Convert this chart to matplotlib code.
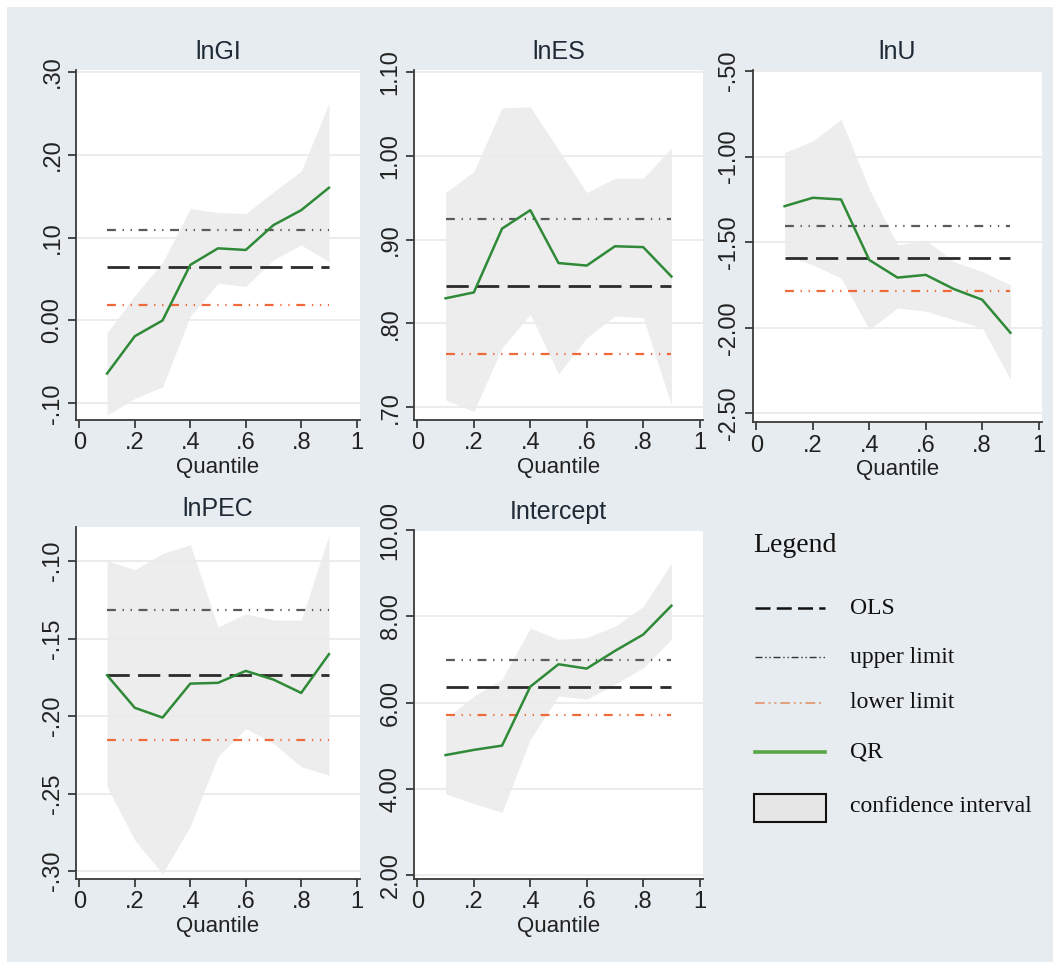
import matplotlib
matplotlib.use("Agg")
import matplotlib.pyplot as plt
from matplotlib.patches import Rectangle
from matplotlib.lines import Line2D

plt.rcParams["font.family"] = ["Liberation Sans", "DejaVu Sans"]

quantiles = [0.1, 0.2, 0.3, 0.4, 0.5, 0.6, 0.7, 0.8, 0.9]
x_ticks = [0, 0.2, 0.4, 0.6, 0.8, 1]
x_ticklabels = ["0", ".2", ".4", ".6", ".8", "1"]

# lnGI
gi_qr = [-0.064, -0.019, 0.000, 0.067, 0.087, 0.085, 0.115, 0.133, 0.160]
gi_hi = [-0.015, 0.030, 0.070, 0.135, 0.130, 0.129, 0.155, 0.180, 0.262]
gi_lo = [-0.114, -0.094, -0.080, 0.005, 0.045, 0.041, 0.073, 0.091, 0.071]
gi_ols, gi_ols_hi, gi_ols_lo = 0.064, 0.109, 0.019
gi_yticks = [-0.10, 0.0, 0.10, 0.20, 0.30]
gi_ylabels = ["-.10", "0.00", ".10", ".20", ".30"]

# lnES
es_qr = [0.830, 0.837, 0.913, 0.935, 0.872, 0.869, 0.892, 0.891, 0.856]
es_hi = [0.956, 0.981, 1.057, 1.058, 1.007, 0.956, 0.973, 0.973, 1.009]
es_lo = [0.709, 0.695, 0.771, 0.811, 0.740, 0.783, 0.809, 0.807, 0.703]
es_ols, es_ols_hi, es_ols_lo = 0.845, 0.924, 0.764
es_yticks = [0.70, 0.80, 0.90, 1.00, 1.10]
es_ylabels = [".70", ".80", ".90", "1.00", "1.10"]

# lnU
u_qr = [-1.290, -1.241, -1.251, -1.604, -1.707, -1.691, -1.774, -1.836, -2.029]
u_hi = [-0.977, -0.909, -0.784, -1.190, -1.517, -1.487, -1.614, -1.672, -1.749]
u_lo = [-1.575, -1.633, -1.710, -2.010, -1.884, -1.903, -1.952, -2.000, -2.300]
u_ols, u_ols_hi, u_ols_lo = -1.591, -1.405, -1.784
u_yticks = [-2.50, -2.00, -1.50, -1.00, -0.50]
u_ylabels = ["-2.50", "-2.00", "-1.50", "-1.00", "-.50"]

# lnPEC
pec_qr = [-0.1736, -0.1946, -0.2009, -0.1790, -0.1785, -0.1708, -0.1764, -0.1850, -0.1600]
pec_hi = [-0.0996, -0.1056, -0.0950, -0.0895, -0.1425, -0.1340, -0.1380, -0.1380, -0.0835]
pec_lo = [-0.2455, -0.2800, -0.3015, -0.2710, -0.2260, -0.2080, -0.2176, -0.2326, -0.2380]
pec_ols, pec_ols_hi, pec_ols_lo = -0.1736, -0.1318, -0.2155
pec_yticks = [-0.30, -0.25, -0.20, -0.15, -0.10]
pec_ylabels = ["-.30", "-.25", "-.20", "-.15", "-.10"]

# Intercept
c_qr = [4.78, 4.90, 5.00, 6.37, 6.89, 6.79, 7.20, 7.58, 8.25]
c_hi = [5.61, 6.15, 6.54, 7.73, 7.47, 7.51, 7.77, 8.23, 9.24]
c_lo = [3.88, 3.65, 3.45, 5.15, 6.15, 6.08, 6.42, 6.81, 7.47]
c_ols, c_ols_hi, c_ols_lo = 6.36, 7.00, 5.72
c_yticks = [2.0, 4.0, 6.0, 8.0, 10.0]
c_ylabels = ["2.00", "4.00", "6.00", "8.00", "10.00"]

BG = "#e6ecf0"
GREEN = "#2f8a38"
ORANGE = "#ee6a3a"
BAND = "#ededed"
TXT = "#1f2a36"
UPPER_DASH = (0, (4, 3, 0.6, 3, 0.6, 3))

W, H = 1059, 966
fig = plt.figure(figsize=(W / 100, H / 100), dpi=100, facecolor="white")
fig.patches.append(Rectangle((7 / W, 4 / H), 1046 / W, 955 / H,
                             transform=fig.transFigure, facecolor=BG,
                             edgecolor="none", zorder=-10))


def panel(box, title, qr, hi, lo, ols, ols_hi, ols_lo, yticks, ylabels, ylim):
    l, t, r, b = box
    ax = fig.add_axes([l / W, 1 - b / H, (r - l) / W, (b - t) / H])
    ax.set_facecolor("white")
    ax.fill_between(quantiles, lo, hi, color=BAND, lw=0, zorder=1)
    ax.hlines(ols_hi, 0.1, 0.9, color="#5a5a5a", lw=1.6, linestyles=[UPPER_DASH], zorder=2)
    ax.hlines(ols_lo, 0.1, 0.9, color=ORANGE, lw=1.6, linestyles=[UPPER_DASH], zorder=2)
    ax.hlines(ols, 0.1, 0.9, color="#2b2b2b", lw=2.0, linestyles=[(0, (8, 3))], zorder=3)
    ax.plot(quantiles, qr, color=GREEN, lw=1.8, zorder=4)
    ax.set_xlim(-0.012, 1.012)
    ax.set_ylim(*ylim)
    ax.set_xticks(x_ticks, x_ticklabels)
    ax.set_yticks(yticks, ylabels)
    ax.grid(axis="y", color="#ebebeb", lw=1.3, zorder=0)
    ax.grid(axis="x", visible=False)
    for side in ("top", "right"):
        ax.spines[side].set_visible(False)
    for side in ("left", "bottom"):
        ax.spines[side].set_color("#3a3a3a")
        ax.spines[side].set_linewidth(1.3)
    ax.tick_params(axis="both", length=6, width=1.3, color="#3a3a3a",
                   labelsize=17, labelcolor="#222222", pad=3)
    ax.tick_params(axis="y", labelrotation=90)
    for lab in ax.get_yticklabels():
        lab.set_va("center")
    ax.set_xlabel("Quantile", fontsize=16, color="#222222", labelpad=2)
    ax.set_title(title, fontsize=18, color=TXT, pad=8)
    return ax


panel((76, 70, 360, 420), "lnGI", gi_qr, gi_hi, gi_lo, gi_ols, gi_ols_hi, gi_ols_lo,
      gi_yticks, gi_ylabels, (-0.12, 0.302))
panel((414, 70, 703, 420), "lnES", es_qr, es_hi, es_lo, es_ols, es_ols_hi, es_ols_lo,
      es_yticks, es_ylabels, (0.685, 1.102))
panel((753, 70, 1042, 422), "lnU", u_qr, u_hi, u_lo, u_ols, u_ols_hi, u_ols_lo,
      u_yticks, u_ylabels, (-2.55, -0.495))
panel((76, 527, 360, 879), "lnPEC", pec_qr, pec_hi, pec_lo, pec_ols, pec_ols_hi, pec_ols_lo,
      pec_yticks, pec_ylabels, (-0.305, -0.078))
panel((414, 530, 703, 879), "Intercept", c_qr, c_hi, c_lo, c_ols, c_ols_hi, c_ols_lo,
      c_yticks, c_ylabels, (1.9, 10.01))

# hand-built legend in the empty sixth cell
serif = ["Liberation Serif", "DejaVu Serif"]
fig.text(753 / W, 1 - 546 / H, "Legend", fontsize=20, family=serif, va="center", color="#111111")
legend_rows = [
    ("OLS", dict(color="#111111", lw=1.8, ls=(0, (6, 2.5)))),
    ("upper limit", dict(color="#333333", lw=1.0, ls=(0, (5, 2, 1, 2, 1, 2)))),
    ("lower limit", dict(color="#e0a07c", lw=1.4, ls=(0, (5, 2, 1, 2, 1, 2)))),
    ("QR", dict(color="#5aa646", lw=2.6, ls="-")),
]
row_y = [608, 657, 703, 752]
for (name, style), y in zip(legend_rows, row_y):
    fy = 1 - y / H
    fig.add_artist(Line2D([755 / W, 825 / W], [fy, fy], transform=fig.transFigure, **style))
    fig.text(850 / W, fy, name, fontsize=17, family=serif, va="center", color="#111111")
fig.patches.append(Rectangle((754 / W, 1 - 822 / H), 72 / W, 28 / H, transform=fig.transFigure,
                             facecolor="#e6e6e6", edgecolor="#111111", lw=1.5))
fig.text(850 / W, 1 - 806 / H, "confidence interval", fontsize=17, family=serif,
         va="center", color="#111111")

fig.savefig("out.png", dpi=100, facecolor="white")
